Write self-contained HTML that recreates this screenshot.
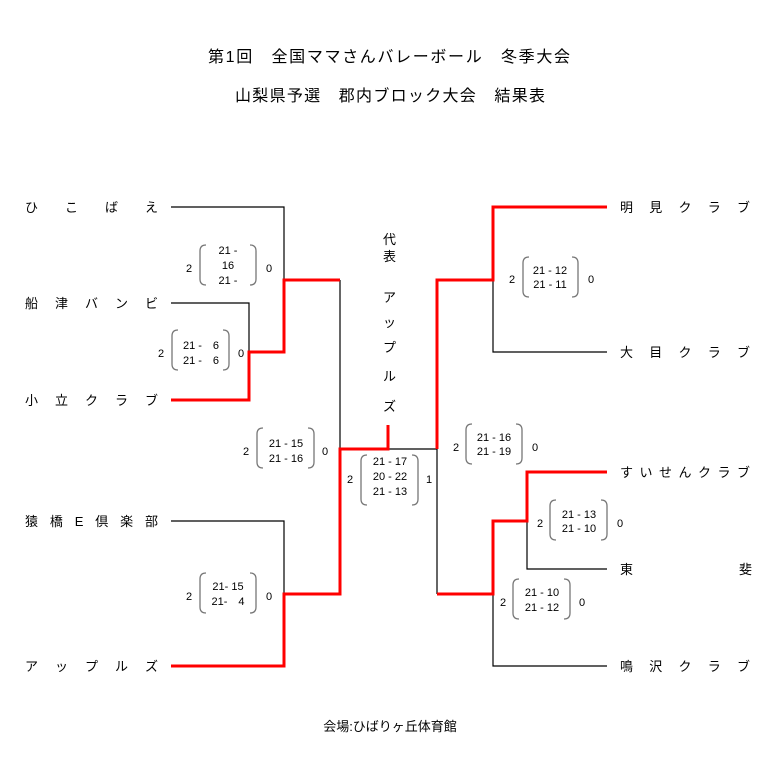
<!DOCTYPE html>
<html><head><meta charset="utf-8"><style>
body{margin:0;background:#fff}
svg{display:block}
text{font-family:"Liberation Sans","Noto Sans CJK JP",sans-serif;fill:#000}
.n{font-size:13px}
.s{font-size:11px}
.t{font-size:16px}
</style></head><body>
<svg width="782" height="775" viewBox="0 0 782 775" xmlns="http://www.w3.org/2000/svg">
<text class="t" x="208" y="62" textLength="362" lengthAdjust="spacing">第1回　全国ママさんバレーボール　冬季大会</text>
<text class="t" x="235" y="101" textLength="310" lengthAdjust="spacing">山梨県予選　郡内ブロック大会　結果表</text>
<text class="n" x="390" y="731" text-anchor="middle">会場:ひばりヶ丘体育館</text>

<g class="n">
<text x="25" y="212" textLength="133" lengthAdjust="spacing">ひ　こ　ば　え</text>
<text x="25" y="308" textLength="133" lengthAdjust="spacing">船　津　バ　ン　ビ</text>
<text x="25" y="405" textLength="133" lengthAdjust="spacing">小　立　ク　ラ　ブ</text>
<text x="25" y="526" textLength="133" lengthAdjust="spacing">猿　橋　E　倶　楽　部</text>
<text x="25" y="671" textLength="133" lengthAdjust="spacing">ア　ッ　プ　ル　ズ</text>
<text x="620" y="212" textLength="130" lengthAdjust="spacing">明　見　ク　ラ　ブ</text>
<text x="620" y="357" textLength="130" lengthAdjust="spacing">大　目　ク　ラ　ブ</text>
<text x="620" y="477" textLength="130" lengthAdjust="spacing">すいせんクラブ</text>
<text x="620" y="574">東</text>
<text x="739" y="574">斐</text>
<text x="620" y="671" textLength="130" lengthAdjust="spacing">鳴　沢　ク　ラ　ブ</text>
<text x="383" y="244">代</text>
<text x="383" y="261">表</text>
<text x="383" y="302">ア</text>
<text x="383" y="327">ッ</text>
<text x="383" y="352">プ</text>
<text x="383" y="381">ル</text>
<text x="383" y="411">ズ</text>
</g>

<g stroke="#000" stroke-width="1.2" fill="none">
<path d="M171 207H284V280"/>
<path d="M171 303H249V352"/>
<path d="M340 280V449"/>
<path d="M388 449H437V594"/>
<path d="M171 521H284V594"/>
<path d="M493 280V352H607"/>
<path d="M527 521V569H607"/>
<path d="M493 594V666H607"/>
</g>
<g stroke="#f00" stroke-width="3" fill="none">
<path d="M171 400H249V352H284V280H340"/>
<path d="M171 666H284V594H340V449H388V425"/>
<path d="M607 207H493V280H437V449"/>
<path d="M607 472H527V521H493V594H437"/>
</g>

<g class="s">
<g stroke="#777" stroke-width="1.3" fill="none">
<path d="M206 245Q200 245 200 251V279Q200 285 206 285"/><path d="M250 245Q256 245 256 251V279Q256 285 250 285"/>
<path d="M178 330Q172 330 172 336V364Q172 370 178 370"/><path d="M223 330Q229 330 229 336V364Q229 370 223 370"/>
<path d="M263 428Q257 428 257 434V462Q257 468 263 468"/><path d="M308 428Q314 428 314 434V462Q314 468 308 468"/>
<path d="M367 455Q361 455 361 461V499Q361 505 367 505"/><path d="M412 455Q418 455 418 461V499Q418 505 412 505"/>
<path d="M206 573Q200 573 200 579V607Q200 613 206 613"/><path d="M250 573Q256 573 256 579V607Q256 613 250 613"/>
<path d="M529 257Q523 257 523 263V291Q523 297 529 297"/><path d="M572 257Q578 257 578 263V291Q578 297 572 297"/>
<path d="M472 424Q466 424 466 430V458Q466 464 472 464"/><path d="M516 424Q522 424 522 430V458Q522 464 516 464"/>
<path d="M556 500Q550 500 550 506V534Q550 540 556 540"/><path d="M601 500Q607 500 607 506V534Q607 540 601 540"/>
<path d="M519 579Q513 579 513 585V613Q513 619 519 619"/><path d="M564 579Q570 579 570 585V613Q570 619 564 619"/>
</g>
<text x="186" y="272">2</text><text x="266" y="272">0</text>
<text x="228" y="254" text-anchor="middle">21 -</text><text x="228" y="269" text-anchor="middle">16</text><text x="228" y="284" text-anchor="middle">21 -</text>
<text x="158" y="357">2</text><text x="238" y="357">0</text>
<text x="201" y="349" text-anchor="middle">21 -　6</text><text x="201" y="364" text-anchor="middle">21 -　6</text>
<text x="243" y="455">2</text><text x="322" y="455">0</text>
<text x="286" y="447" text-anchor="middle">21 - 15</text><text x="286" y="462" text-anchor="middle">21 - 16</text>
<text x="347" y="483">2</text><text x="426" y="483">1</text>
<text x="390" y="465" text-anchor="middle">21 - 17</text><text x="390" y="480" text-anchor="middle">20 - 22</text><text x="390" y="495" text-anchor="middle">21 - 13</text>
<text x="186" y="600">2</text><text x="266" y="600">0</text>
<text x="228" y="590" text-anchor="middle">21- 15</text><text x="228" y="605" text-anchor="middle">21-　4</text>
<text x="509" y="283">2</text><text x="588" y="283">0</text>
<text x="550" y="274" text-anchor="middle">21 - 12</text><text x="550" y="288" text-anchor="middle">21 - 11</text>
<text x="453" y="451">2</text><text x="532" y="451">0</text>
<text x="494" y="441" text-anchor="middle">21 - 16</text><text x="494" y="455" text-anchor="middle">21 - 19</text>
<text x="537" y="527">2</text><text x="617" y="527">0</text>
<text x="579" y="518" text-anchor="middle">21 - 13</text><text x="579" y="532" text-anchor="middle">21 - 10</text>
<text x="500" y="606">2</text><text x="579" y="606">0</text>
<text x="542" y="596" text-anchor="middle">21 - 10</text><text x="542" y="611" text-anchor="middle">21 - 12</text>
</g>
</svg>
</body></html>
